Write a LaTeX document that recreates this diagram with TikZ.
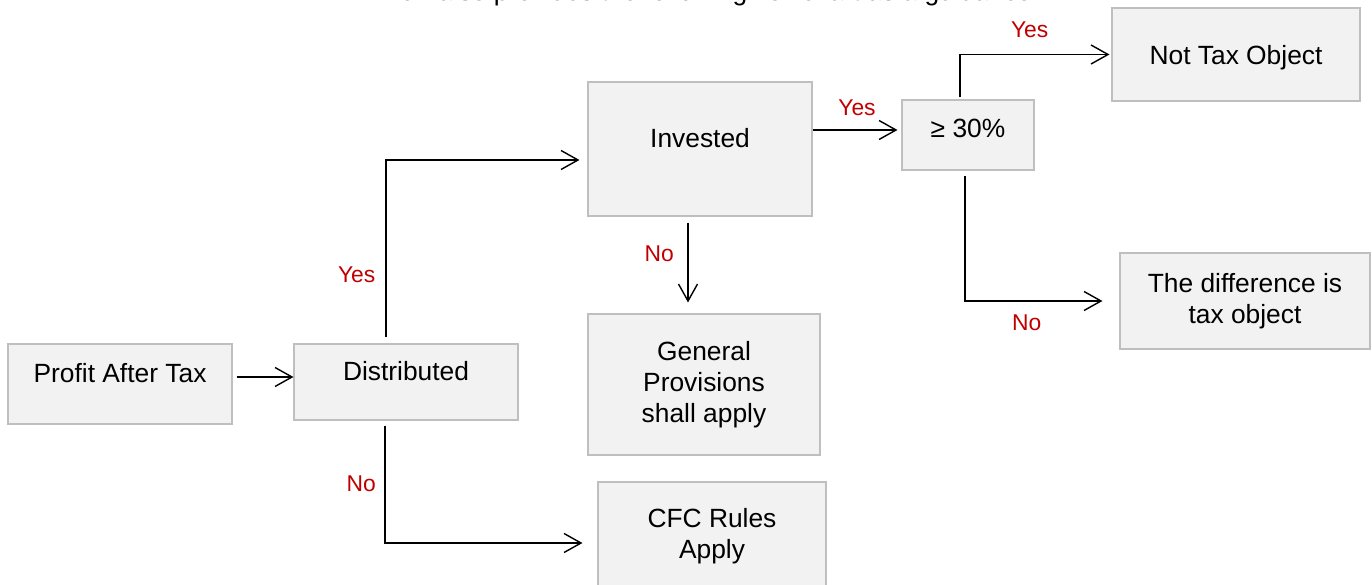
\documentclass[tikz,border=0pt]{standalone}
\usepackage{fontspec}
\setmainfont{Liberation Sans}
\usepackage{xcolor}
\usetikzlibrary{arrows.meta}
\definecolor{boxfill}{RGB}{242,242,242}
\definecolor{boxline}{RGB}{191,191,191}
\definecolor{answer}{RGB}{192,0,0}

\begin{document}
\begin{tikzpicture}[
    font=\fontsize{15}{17.5}\selectfont,
    box/.style={draw=boxline,fill=boxfill,line width=0.6pt,align=center,inner sep=0pt},
    lifted/.style={text height=0.4cm,text depth=#1},
    lifted/.default=0.1cm,
    link/.style={line width=0.8pt,-{Straight Barb[length=0.34cm,width=0.38cm]}},
    ans/.style={answer,font=\fontsize{13}{15}\selectfont,inner sep=0pt}
  ]
    \useasboundingbox (0,0) rectangle (27.44,-11.7);
    % caption, cut by the top of the page
    \node[anchor=base] (caption) at (14.1,-0.02) {MoF also provides the following flowchart as a guidance};
    % boxes
    \node[box,lifted=0.46cm,minimum width=4.48cm,minimum height=1.6cm] (pat) at (2.4,-7.68) {Profit After Tax};
    \node[box,lifted=0.46cm,minimum width=4.48cm,minimum height=1.52cm] (dist) at (8.12,-7.64) {Distributed};
    \node[box,lifted=0.46cm,minimum width=4.48cm,minimum height=2.68cm] (inv) at (14.0,-2.98) {Invested};
    \node[box,minimum width=4.64cm,minimum height=2.82cm] (gen) at (14.08,-7.69) {General\\Provisions\\shall apply};
    \node[box,minimum width=4.56cm,minimum height=2.16cm] (cfc) at (14.24,-10.72) {CFC Rules\\Apply};
    \node[box,lifted=0.3cm,minimum width=2.64cm,minimum height=1.4cm] (pct) at (19.36,-2.7) {≥ 30\%};
    \node[box,lifted=0cm,minimum width=4.96cm,minimum height=1.86cm] (nto) at (24.72,-1.09) {Not Tax Object};
    \node[box,minimum width=5.0cm,minimum height=1.92cm] (diff) at (24.9,-6.02) {The difference is\\tax object};
    % connectors
    \draw[link] ([xshift=0.08cm,yshift=0.14cm]pat.east) -- ([yshift=0.14cm]pat.east -| dist.west);
    \draw[link,shorten >=0.16cm] ([xshift=-0.4cm,yshift=0.12cm]dist.north) |- ([yshift=-0.22cm]inv.west)
      node[ans,pos=0.177,left=0.2cm] (ydist) {Yes};
    \draw[link,shorten >=0.3cm] ([xshift=-0.42cm,yshift=-0.1cm]dist.south) |- ([yshift=-0.14cm]cfc.west)
      node[ans,pos=0.246,left=0.17cm] (ndist) {No};
    \draw[link,shorten >=0.08cm] ([yshift=0.38cm]inv.east) -- ([yshift=0.38cm]inv.east -| pct.west)
      node[ans,midway,above=0.28cm] (yinv) {Yes};
    \draw[link,shorten >=0.22cm] ([xshift=-0.24cm,yshift=-0.12cm]inv.south) -- ([xshift=-0.24cm]inv.south |- gen.north)
      node[ans,pos=0.34,left=0.27cm] (ninv) {No};
    \draw[link,shorten >=0.04cm] ([xshift=-0.16cm,yshift=0.04cm]pct.north) |- (nto.west)
      node[ans,pos=0.73,above=0.32cm] (ypct) {Yes};
    \draw[link,shorten >=0.34cm] ([xshift=-0.06cm,yshift=-0.1cm]pct.south) |- (diff.west)
      node[ans,pos=0.7,below=0.26cm] (npct) {No};
\end{tikzpicture}
\end{document}
